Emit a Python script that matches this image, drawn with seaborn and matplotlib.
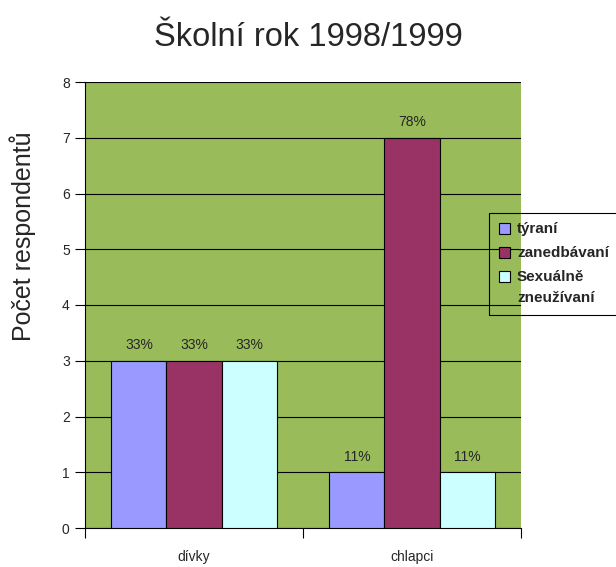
import matplotlib
matplotlib.use("Agg")
import matplotlib.pyplot as plt
import seaborn as sns
import pandas as pd
from matplotlib.patches import Rectangle

categories = ["dívky", "chlapci"]
series_names = ["týraní", "zanedbávaní", "Sexuálně\nzneužívaní"]
tyrani = [3, 1]
zanedbavani = [3, 7]
sexualne = [3, 1]
pct_labels = [["33%", "11%"], ["33%", "78%"], ["33%", "11%"]]
colors = ["#9999FF", "#993366", "#CCFFFF"]

rows = []
for name, vals in zip(series_names, [tyrani, zanedbavani, sexualne]):
    for c, v in zip(categories, vals):
        rows.append({"kat": c, "serie": name, "pocet": v})
df = pd.DataFrame(rows)

sns.set_style("white")
plt.rcParams["font.family"] = ["Liberation Sans", "DejaVu Sans"]

W, H = 616, 567
fig = plt.figure(figsize=(W/100, H/100), dpi=100)
ax = fig.add_axes([85/W, 1-528/H, (521-85)/W, (528-82)/H])
ax.set_facecolor("#99BB5A")

sns.barplot(data=df, x="kat", y="pocet", hue="serie", order=categories,
            hue_order=series_names, palette=colors, width=0.757,
            saturation=1, edgecolor="black", linewidth=0.8, ax=ax,
            legend=False, zorder=3)

for cont, labs in zip(ax.containers, pct_labels):
    ax.bar_label(cont, labels=labs, padding=6, fontsize=10, zorder=4)

ax.set_ylim(0, 8)
ax.set_xlim(-0.5, 1.5)
ax.set_yticks(range(0, 9))
ax.yaxis.grid(True, color="black", linewidth=0.8, zorder=0)
ax.set_axisbelow(True)
ax.tick_params(axis="y", direction="out", length=7, width=0.8, color="black",
               labelsize=10, pad=4, left=True)
ax.set_xticks([0, 1])
ax.set_xticklabels(categories, fontsize=10)
ax.tick_params(axis="x", which="major", length=0, pad=16)
ax.set_xticks([-0.5, 0.5, 1.5], minor=True)
ax.tick_params(axis="x", which="minor", direction="out", length=7, width=0.8,
               color="black", bottom=True)
for s in ["top", "right"]:
    ax.spines[s].set_visible(False)
for s in ["left", "bottom"]:
    ax.spines[s].set_color("black")
    ax.spines[s].set_linewidth(0.8)
ax.set_xlabel("")
ax.set_ylabel("")
fig.text(23/W, 1-236/H, "Počet respondentů", rotation=90, fontsize=18,
         ha="center", va="center")

fig.suptitle("Školní rok 1998/1999", fontsize=23.5, y=1-37/H, va="center")

# legend (transparent fill, frame extends beyond the right edge)
fig.patches.append(Rectangle((489/W, 1-315/H), 140/W, 102/H,
                             transform=fig.transFigure, facecolor="none",
                             edgecolor="black", linewidth=0.8))
row_y = [228, 252, 276]
for name, col, y in zip(series_names, colors, row_y):
    fig.patches.append(Rectangle((499/W, 1-(y+5.5)/H), 11/W, 11/H,
                                 transform=fig.transFigure, facecolor=col,
                                 edgecolor="black", linewidth=0.8))
    fig.text(517/W, 1-(y-6)/H, name, fontsize=11, fontweight="bold",
             ha="left", va="top", linespacing=1.6)

fig.savefig("out.png", dpi=100)
